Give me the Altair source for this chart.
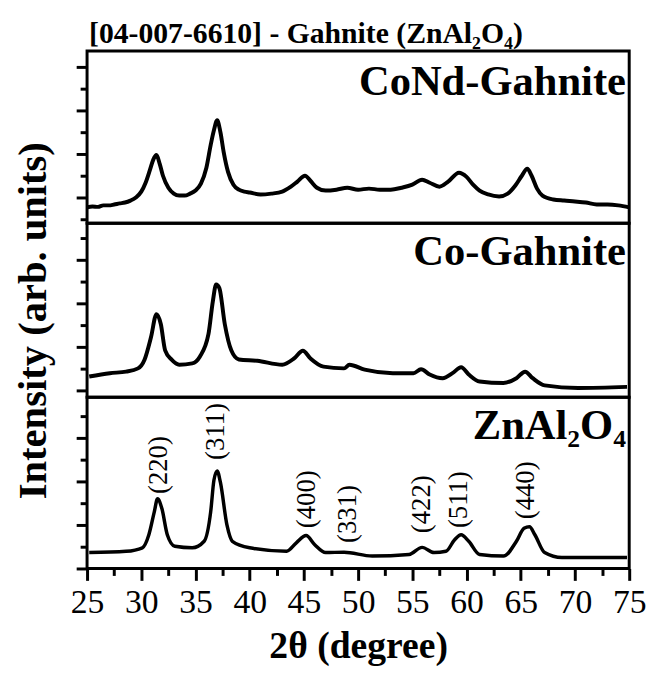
import altair as alt
import pandas as pd

FONT = "Liberation Serif"

# ---------------- data (arbitrary units) ----------------
two_theta_cond = [25.0, 25.5, 26.0, 26.5, 27.0, 27.5, 28.0, 28.5, 29.0, 29.5, 30.0, 30.4, 30.8, 31.1,
                  31.4, 31.7, 32.0, 32.5, 33.0, 33.5, 34.0, 34.5, 35.0, 35.5, 36.0, 36.4, 36.7, 37.0,
                  37.3, 37.6, 38.0, 38.5, 39.0, 39.5, 40.0, 41.0, 42.0, 43.0, 43.8, 44.4, 45.1, 45.6,
                  46.2, 47.0, 48.0, 49.0, 50.0, 51.0, 52.0, 53.0, 54.0, 55.0, 55.9, 56.6, 57.5, 58.3,
                  59.3, 60.0, 60.6, 61.2, 62.0, 63.0, 63.8, 64.5, 65.1, 65.6, 66.0, 66.5, 67.0, 68.0,
                  69.0, 70.0, 71.0, 72.0, 73.0, 74.0, 75.0]
int_cond = [55, 59, 57, 64, 64, 68, 73, 77, 86, 100, 127, 168, 227, 273,
            295, 255, 200, 145, 118, 109, 109, 118, 132, 164, 236, 341, 409, 455,
            400, 309, 218, 159, 136, 127, 123, 114, 118, 127, 150, 173, 200, 177,
            145, 132, 136, 145, 136, 141, 136, 136, 145, 159, 182, 168, 150, 173,
            214, 195, 159, 132, 114, 105, 118, 155, 200, 232, 200, 141, 109, 91,
            86, 82, 77, 68, 68, 64, 55]

two_theta_co = [25.2, 27.1, 28.6, 29.7, 30.3, 30.9, 31.4, 31.8, 32.2, 32.8, 33.5, 34.7, 35.4, 36.2,
                36.6, 36.9, 37.2, 37.7, 38.3, 39.0, 40.7, 43.0, 44.1, 44.9, 45.6, 46.8, 48.7, 49.2,
                50.6, 53.2, 55.1, 55.8, 56.6, 57.8, 58.7, 59.5, 60.2, 61.2, 63.4, 64.6, 65.4, 66.1,
                67.2, 70.3, 74.8]
int_co = [64, 79, 86, 101, 141, 245, 350, 305, 184, 141, 118, 124, 155, 259,
          409, 486, 470, 305, 184, 142, 136, 118, 147, 182, 147, 109, 101, 118,
          95, 79, 79, 97, 73, 56, 79, 106, 73, 41, 34, 56, 86, 56,
          23, 11, 16]

two_theta_zn = [25.2, 28.6, 30.1, 30.7, 31.2, 31.5, 31.9, 32.4, 33.1, 34.7, 35.8, 36.4, 36.7, 37.0,
                37.3, 37.9, 38.4, 40.0, 43.4, 44.3, 45.2, 46.0, 47.0, 48.7, 51.3, 54.7, 55.9, 57.0,
                58.1, 58.9, 59.5, 60.2, 61.2, 63.4, 64.6, 65.3, 65.8, 66.3, 67.2, 68.8, 72.2, 74.8]
int_zn = [73, 79, 95, 155, 260, 320, 275, 155, 102, 95, 125, 260, 405, 448,
          395, 200, 125, 95, 79, 118, 151, 109, 73, 75, 57, 64, 97, 73,
          79, 132, 155, 125, 64, 57, 125, 185, 192, 155, 73, 50, 50, 50]

peak_hkl = ["(220)", "(311)", "(400)", "(331)", "(422)", "(511)", "(440)"]
peak_pos = [31.6, 36.9, 45.3, 49.05, 55.9, 59.3, 65.5]
peak_lab_y = [475, 629, 318, 250, 295, 316, 359]

panel_names = ["CoNd-Gahnite", "Co-Gahnite", "ZnAl\u2082O\u2084"]
panel_label_y = [570, 575, 595]
y_domains = [[-18, 773], [-32, 768], [0, 786]]
y_ticks = [0, 100, 200, 300, 400, 500, 600, 700]
x_ticks = [25, 27.5, 30, 32.5, 35, 37.5, 40, 42.5, 45, 47.5, 50, 52.5, 55, 57.5, 60,
           62.5, 65, 67.5, 70, 72.5, 75]

chart_title = "[04-007-6610] - Gahnite (ZnAl\u2082O\u2084)"

W = 548
heights = [174, 176, 173]
line_widths = [4, 4, 3.5]


def y_axis(major_odd, title=None):
    test = "datum.value % 200 == 100" if major_odd else "datum.value % 200 == 0"
    kw = dict(values=y_ticks, labels=False, domain=False, grid=False, ticks=True,
              tickColor="black", tickWidth=3,
              tickSize={"condition": {"test": test, "value": 11}, "value": 7})
    if title:
        kw.update(title=title, titleFont=FONT, titleFontSize=41, titleFontWeight="bold",
                  titleColor="black", titleX=-54, titleY=98, titleAngle=270,
                  titleAlign="center", titleBaseline="middle")
    else:
        kw.update(title=None)
    return alt.Axis(**kw)


x_axis_bottom = alt.Axis(
    values=x_ticks, labelExpr="datum.value % 5 == 0 ? datum.value : ''",
    tickSize={"condition": {"test": "datum.value % 5 == 0", "value": 12}, "value": 7},
    tickWidth=3, tickColor="black", domain=False, grid=False,
    labelFont=FONT, labelFontSize=34, labelColor="black", labelPadding=6,
    labelFlush=False, labelOverlap=False,
    title="2\u03b8 (degree)", titleFont=FONT, titleFontSize=38, titleFontWeight="bold",
    titleColor="black", titlePadding=8)


def panel(idx, xs, ys, major_odd, x_axis, y_title=None, peaks=False, title=None):
    xscale = alt.Scale(domain=[25, 75], nice=False, zero=False)
    yscale = alt.Scale(domain=y_domains[idx], nice=False, zero=False)
    yax = y_axis(major_odd, y_title)

    def enc(chart, **extra):
        return chart.encode(
            x=alt.X("x:Q", scale=xscale, axis=x_axis),
            y=alt.Y("y:Q", scale=yscale, axis=yax),
            **extra)

    df = pd.DataFrame({"x": xs, "y": ys})
    line = enc(alt.Chart(df).mark_line(color="black", strokeWidth=line_widths[idx],
                                       interpolate="monotone", clip=True))
    lab_df = pd.DataFrame({"x": [74.7], "y": [panel_label_y[idx]], "t": [panel_names[idx]]})
    lab = enc(alt.Chart(lab_df).mark_text(align="right", baseline="alphabetic", font=FONT,
                                          fontSize=43, fontWeight="bold", color="black"),
              text="t:N")
    layers = [line, lab]
    if peaks:
        pk = pd.DataFrame({"x": peak_pos, "y": peak_lab_y, "t": peak_hkl})
        layers.append(enc(alt.Chart(pk).mark_text(angle=270, align="center", baseline="middle",
                                                  font=FONT, fontSize=27, color="black"),
                          text="t:N"))
    props = dict(width=W, height=heights[idx])
    if title:
        props["title"] = alt.TitleParams(text=title, anchor="start", frame="group", font=FONT,
                                         fontSize=30, fontWeight="bold", color="black",
                                         offset=-22, baseline="alphabetic", dx=2)
    return alt.layer(*layers).properties(**props)


top = panel(0, two_theta_cond, int_cond, True, None, title=chart_title)
mid = panel(1, two_theta_co, int_co, False, None, y_title="Intensity (arb. units)")
bot = panel(2, two_theta_zn, int_zn, False, x_axis_bottom, peaks=True)

chart = alt.vconcat(top, mid, bot, spacing=0, bounds="flush").properties(
    padding={"left": 11, "top": 14, "right": 0, "bottom": 0},
    background="white",
).configure_view(stroke="black", strokeWidth=3).configure_concat(spacing=0)

chart.save("out.html", embed_options={"renderer": "svg", "actions": False})
